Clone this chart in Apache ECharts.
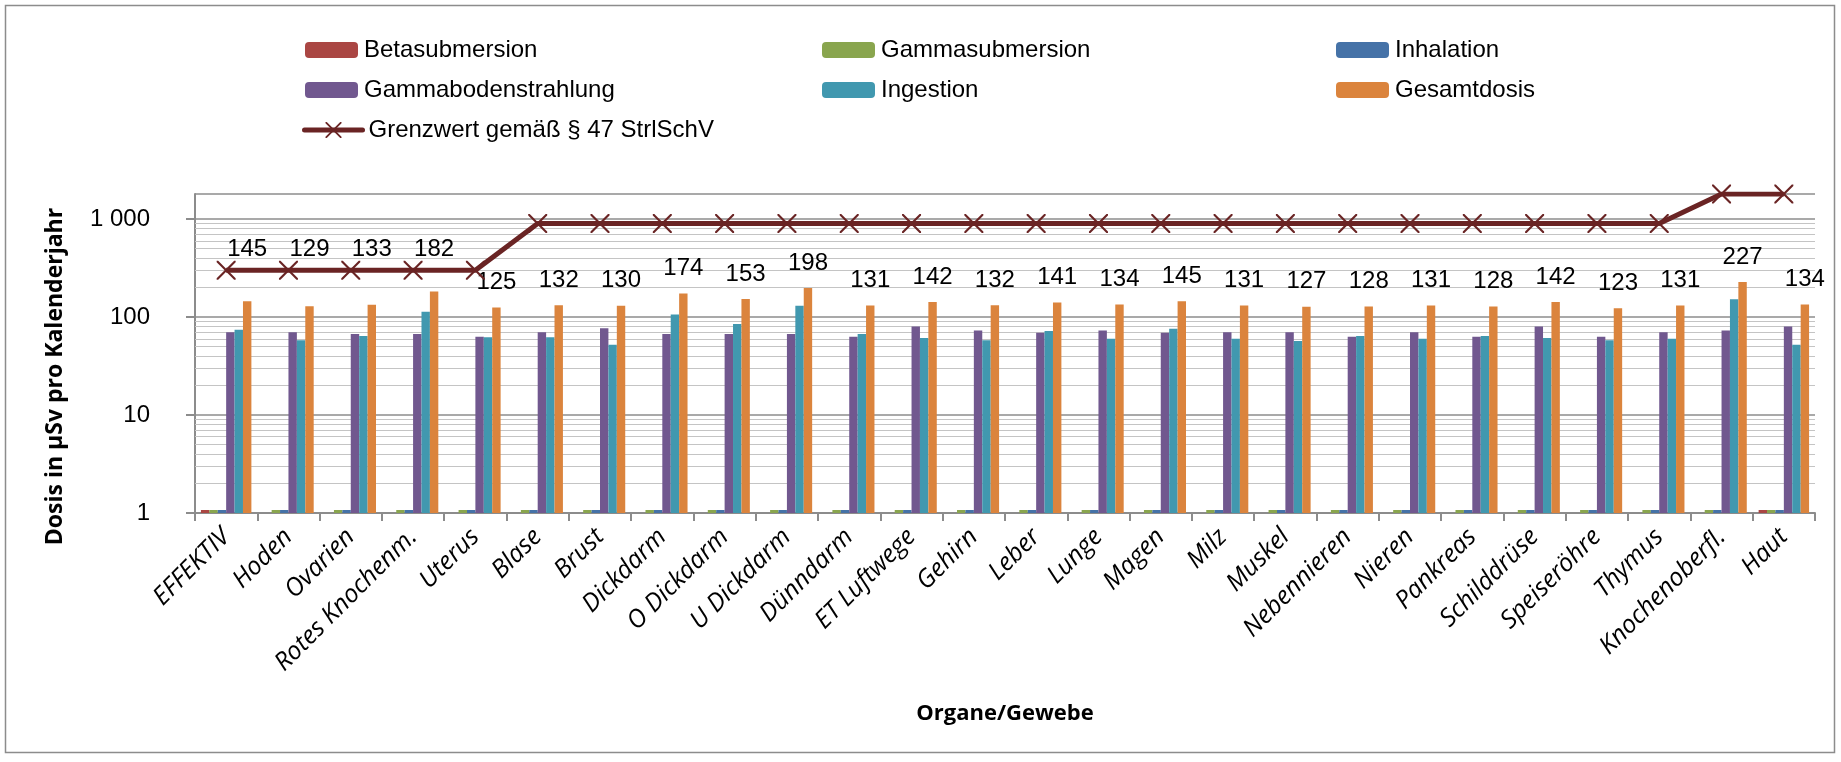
<!DOCTYPE html>
<html><head><meta charset="utf-8">
<script src="https://cdn.jsdelivr.net/npm/echarts@6/dist/echarts.min.js"></script>
<style>html,body{margin:0;padding:0;background:#fff}#c{width:1841px;height:762px}</style>
</head><body><div id="c"></div><script>
// ---- data ----
const categories = ['EFFEKTIV','Hoden','Ovarien','Rotes Knochenm.','Uterus','Blase','Brust','Dickdarm','O Dickdarm','U Dickdarm','Dünndarm','ET Luftwege','Gehirn','Leber','Lunge','Magen','Milz','Muskel','Nebennieren','Nieren','Pankreas','Schilddrüse','Speiseröhre','Thymus','Knochenoberfl.','Haut'];
const betasubmersion      = [0.3,0,0,0,0,0,0,0,0,0,0,0,0,0,0,0,0,0,0,0,0,0,0,0,0,0.9];
const gammasubmersion     = [0.4,0.4,0.4,0.4,0.4,0.4,0.4,0.4,0.4,0.4,0.4,0.4,0.4,0.4,0.4,0.4,0.4,0.4,0.4,0.4,0.4,0.4,0.4,0.4,0.4,0.4];
const inhalation          = [0.3,0.2,0.2,0.3,0.2,0.2,0.2,0.2,0.2,0.2,0.2,0.5,0.2,0.2,0.6,0.2,0.2,0.2,0.2,0.2,0.2,0.2,0.2,0.2,0.4,0.2];
const gammabodenstrahlung = [70,70,67,67,63,70,77,67,67,67,63,80,73,69,73,69,70,70,63,70,63,80,63,70,73,80];
const ingestion           = [74,58,64,113,62,62,52,106,85,130,67,61,58,72,60,76,60,57,64,60,64,61,58,60,152,52];
const gesamtdosis         = [145,129,133,182,125,132,130,174,153,198,131,142,132,141,134,145,131,127,128,131,128,142,123,131,227,134];
const grenzwert           = [300,300,300,300,300,900,900,900,900,900,900,900,900,900,900,900,900,900,900,900,900,900,900,900,1800,1800];
const yMin = 1, yMax = 1800;

const names = ['Betasubmersion','Gammasubmersion','Inhalation','Gammabodenstrahlung','Ingestion','Gesamtdosis','Grenzwert gemäß § 47 StrlSchV'];
const colors = ['#AA4643','#89A54E','#4572A7','#71588F','#4198AF','#DB843D','#6A2424'];

// minor log grid values (2..9 per decade)
const minorGrid = [];
[1,10,100].forEach(d => { for (let k = 2; k <= 9; k++) minorGrid.push(d*k); });

const chart = echarts.init(document.getElementById('c'), null, {renderer:'canvas'});
const SANS = 'Liberation Sans';
const XMARK = 'path://M0,0 L1.6,0 L10,8.4 L18.4,0 L20,0 L20,1.6 L11.6,10 L20,18.4 L20,20 L18.4,20 L10,11.6 L1.6,20 L0,20 L0,18.4 L8.4,10 L0,1.6 Z';

// values below the axis minimum are shown as a stub at the baseline
const stub = arr => arr.map(v => v > 0 ? Math.max(v, yMin) : null);

function yLabel(v){
  const r = Math.round(v);
  const l = Math.log10(r);
  if (Math.abs(l - Math.round(l)) > 1e-6 || r > 1000) return '';
  return String(r).replace(/\B(?=(\d{3})+(?!\d))/g, ' ');
}

function legend(name, left, centerY, extra){
  return Object.assign({
    data:[name], left:left, top:centerY-12, padding:0, orient:'horizontal',
    itemWidth:53, itemHeight:16, itemGap:0, selectedMode:false,
    textStyle:{fontFamily:SANS, fontSize:24, lineHeight:24, color:'#000', padding:[0,0,0,1]}
  }, extra||{});
}

function barSeries(i, data, small){
  const s = {
    name:names[i], type:'bar', data:data, barGap:'0%', barCategoryGap:'19%',
    itemStyle:{color:colors[i]}, emphasis:{disabled:true}, animation:false, z:2
  };
  if (small){ s.clip = false; s.barMinHeight = 3; }
  return s;
}

const gesamtSeries = barSeries(5, gesamtdosis.slice(), false);
gesamtSeries.label = {show:true, position:'top', distance:13, fontFamily:SANS, fontSize:24, color:'#000'};

const gammaSubSeries = barSeries(1, stub(gammasubmersion), true);
gammaSubSeries.markLine = {
  silent:true, symbol:['none','none'], label:{show:false}, z:1, animation:false,
  lineStyle:{color:'#c4c4c4', width:1.2, type:'solid'},
  emphasis:{disabled:true},
  data: minorGrid.map(v => ({yAxis:v}))
};

const option = {
  backgroundColor:'#fff',
  animation:false,
  graphic:[{type:'rect', shape:{x:5.5, y:5.5, width:1829, height:747}, style:{fill:'none', stroke:'#8c8c8c', lineWidth:1.5}, silent:true, z:-1}],
  legend:[
    legend(names[0], 305, 50),
    legend(names[3], 305, 90),
    legend(names[6], 302, 130, {itemWidth:58, itemHeight:20, lineStyle:{width:5, color:colors[6], cap:'round'}}),
    legend(names[1], 822, 50),
    legend(names[4], 822, 90),
    legend(names[2], 1336, 50),
    legend(names[5], 1336, 90)
  ],
  grid:{left:195, right:26, top:194, bottom:249, containLabel:false, outerBoundsMode:'none'},
  xAxis:{
    type:'category', data:categories, boundaryGap:true,
    axisLine:{lineStyle:{color:'#8c8c8c', width:2}},
    axisTick:{show:true, length:8, alignWithLabel:false, lineStyle:{color:'#8c8c8c', width:2}},
    axisLabel:{interval:0, rotate:45, margin:20, fontFamily:'Open Sans', fontStyle:'italic', fontSize:25, color:'#000', hideOverlap:false},
    name:'Organe/Gewebe', nameLocation:'middle', nameGap:190, nameMoveOverlap:false,
    nameTextStyle:{fontFamily:'Open Sans', fontWeight:'bold', fontSize:22, color:'#000'}
  },
  yAxis:{
    type:'log', logBase:10, min:yMin, max:yMax,
    axisLine:{show:true, lineStyle:{color:'#8c8c8c', width:2}},
    axisTick:{show:true, length:9, lineStyle:{color:'#8c8c8c', width:2}},
    axisLabel:{formatter:yLabel, margin:45, fontFamily:SANS, fontSize:24, color:'#000', showMaxLabel:false, hideOverlap:false},
    splitLine:{show:true, lineStyle:{color:'#8c8c8c', width:1.6}},
    minorTick:{show:false}, minorSplitLine:{show:false},
    name:'Dosis in µSv pro Kalenderjahr', nameLocation:'middle', nameGap:128, nameRotate:90, nameMoveOverlap:false,
    nameTextStyle:{fontFamily:'Open Sans', fontWeight:'bold', fontSize:23, color:'#000', padding:[0,46,0,0]}
  },
  series:[
    barSeries(0, stub(betasubmersion), true),
    gammaSubSeries,
    barSeries(2, stub(inhalation), true),
    barSeries(3, gammabodenstrahlung, false),
    barSeries(4, ingestion, false),
    gesamtSeries,
    {
      name:names[6], type:'line', data:grenzwert, z:4,
      symbol:XMARK, symbolSize:19, showAllSymbol:true,
      lineStyle:{color:colors[6], width:5},
      itemStyle:{color:colors[6]},
      emphasis:{disabled:true}, animation:false
    }
  ]
};
chart.setOption(option);

// Labels that would sit on the limit line are lifted above it (as in the reference).
const labelled = gesamtdosis.map((v, i) => {
  if (grenzwert[i] / v < 2.36) {
    const barTop = chart.convertToPixel({yAxisIndex:0}, v);
    const lineY = chart.convertToPixel({yAxisIndex:0}, grenzwert[i]);
    return {value:v, label:{distance:(barTop - lineY) + 9}};
  }
  return v;
});
chart.setOption({series:[{},{},{},{},{},{data:labelled}]});
</script></body></html>
